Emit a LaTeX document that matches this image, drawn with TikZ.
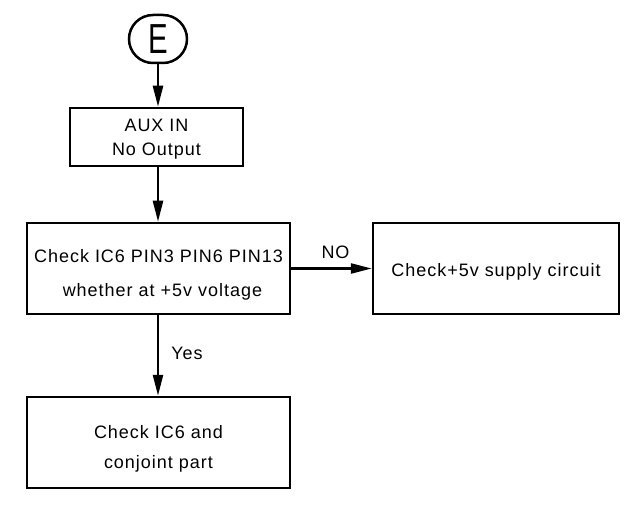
\documentclass[tikz,border=0pt]{standalone}
\usepackage{fontspec}
\setmainfont{Liberation Sans}[LetterSpace=5.5]
\usetikzlibrary{arrows.meta}
\newcommand\lowertext[2]{\raisebox{-#1}[\height][\depth]{#2}}
\begin{document}
\begin{tikzpicture}[x=1pt,y=-1pt,
  box/.style={draw,line width=2.5pt,inner sep=0pt,align=center,font=\fontsize{18}{24}\selectfont},
  conn/.style={line width=2.5pt,-{Triangle[length=21pt,width=10pt]}},
  lbl/.style={font=\fontsize{18}{20}\selectfont,inner sep=0pt}]
\useasboundingbox (0,0) rectangle (637,505);
\node[draw,line width=2.5pt,rounded corners=24pt,minimum width=58pt,minimum height=48pt,inner sep=0pt,font=\fontsize{42}{42}\selectfont] (E) at (158,39) {\scalebox{0.7}[1]{E}};
\node[box,minimum width=173pt,minimum height=58pt] (aux) at (156.5,137) {\lowertext{2pt}{AUX IN}\\\lowertext{2pt}{No Output}};
\node[box,minimum width=263pt,minimum height=91pt,font=\fontsize{18}{34}\selectfont] (chk) at (158.5,268.5) {\lowertext{6pt}{Check IC6 PIN3 PIN6 PIN13}\\\lowertext{6pt}{\hspace*{8pt}whether at +5v voltage}};
\node[box,minimum width=246pt,minimum height=91pt] (sup) at (496,268.5) {\lowertext{3pt}{Check+5v supply circuit}};
\node[box,minimum width=263pt,minimum height=91pt,font=\fontsize{18}{30}\selectfont] (ic6) at (158.5,442.5) {\lowertext{6pt}{Check IC6 and}\\\lowertext{6pt}{conjoint part}};
\draw[conn] (E.south) -- (E.south |- aux.north);
\draw[conn] (aux.south -| E.south) -- (E.south |- chk.north);
\draw[conn] (chk.east) -- (sup.west) node[lbl,midway,above=9pt,xshift=4pt] {NO};
\draw[conn] (E.south |- chk.south) -- (E.south |- ic6.north) node[lbl,pos=0.47,right=12pt] {Yes};
\end{tikzpicture}
\end{document}
